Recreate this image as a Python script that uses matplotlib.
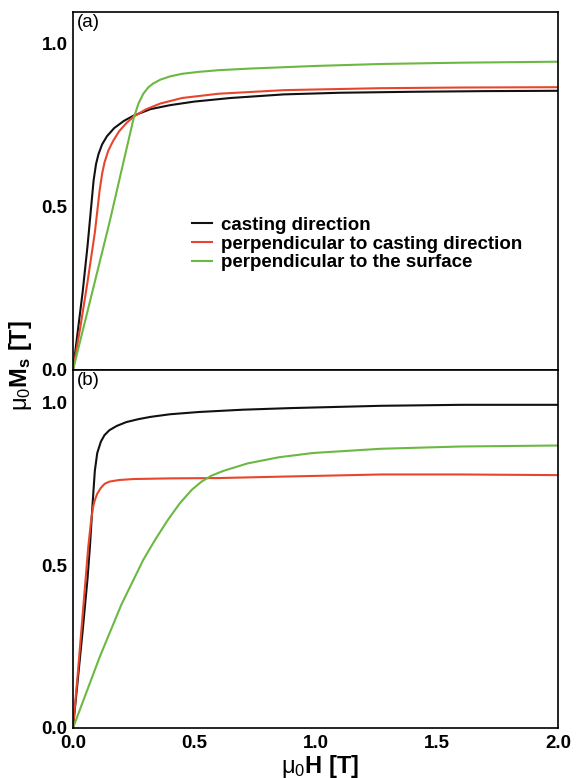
import numpy as np
import matplotlib
matplotlib.use("Agg")
from matplotlib import pyplot as plt

plt.rcParams['font.family'] = ['Liberation Sans', 'DejaVu Sans']
plt.rcParams['mathtext.fontset'] = 'custom'
plt.rcParams['mathtext.rm'] = 'Liberation Sans'
plt.rcParams['mathtext.bf'] = 'Liberation Sans:bold'
plt.rcParams['mathtext.it'] = 'Liberation Sans:italic'

labels = ['casting direction',
          'perpendicular to casting direction',
          'perpendicular to the surface']
colors = ['#111111', '#e8462c', '#6cb843']

# panel (a)
a_black_x = [0, 0.02, 0.04, 0.06, 0.075, 0.085, 0.095, 0.105, 0.12, 0.14, 0.17, 0.21, 0.25, 0.32,
             0.40, 0.50, 0.65, 0.87, 1.1, 1.4, 1.7, 2.0]
a_black_y = [0, 0.12, 0.24, 0.38, 0.50, 0.58, 0.63, 0.66, 0.69, 0.715, 0.74, 0.762, 0.778, 0.798,
             0.81, 0.821, 0.832, 0.843, 0.848, 0.851, 0.853, 0.854]
a_red_x = [0, 0.03, 0.06, 0.09, 0.11, 0.12, 0.13, 0.145, 0.165, 0.19, 0.22, 0.25, 0.30, 0.36,
           0.45, 0.6, 0.87, 1.27, 1.6, 2.0]
a_red_y = [0, 0.13, 0.27, 0.42, 0.55, 0.60, 0.635, 0.67, 0.70, 0.73, 0.755, 0.775, 0.797, 0.815,
           0.832, 0.845, 0.856, 0.862, 0.864, 0.865]
a_green_x = [0, 0.10, 0.15, 0.20, 0.25, 0.27, 0.29, 0.31, 0.33, 0.36, 0.40, 0.45, 0.52, 0.6,
             0.73, 1.0, 1.27, 1.6, 2.0]
a_green_y = [0, 0.30, 0.45, 0.61, 0.77, 0.815, 0.845, 0.864, 0.876, 0.888, 0.898, 0.906, 0.912, 0.917,
             0.922, 0.930, 0.936, 0.940, 0.943]

# panel (b)
b_black_x = [0, 0.02, 0.04, 0.06, 0.07, 0.08, 0.09, 0.10, 0.115, 0.13, 0.15, 0.18, 0.22, 0.27,
             0.32, 0.4, 0.52, 0.7, 0.9, 1.27, 1.6, 2.0]
b_black_y = [0, 0.15, 0.30, 0.46, 0.56, 0.68, 0.79, 0.845, 0.88, 0.90, 0.915, 0.928, 0.940, 0.949,
             0.956, 0.964, 0.971, 0.978, 0.983, 0.990, 0.993, 0.993]
b_red_x = [0, 0.02, 0.04, 0.063, 0.075, 0.083, 0.09, 0.10, 0.115, 0.13, 0.15, 0.19, 0.25, 0.4,
           0.6, 0.9, 1.27, 1.6, 2.0]
b_red_y = [0, 0.17, 0.35, 0.557, 0.64, 0.68, 0.70, 0.72, 0.738, 0.75, 0.757, 0.762, 0.765, 0.767,
           0.768, 0.773, 0.779, 0.779, 0.777]
b_green_x = [0, 0.11, 0.2, 0.29, 0.34, 0.39, 0.44, 0.49, 0.53, 0.57, 0.62, 0.72, 0.85, 0.99,
             1.27, 1.6, 2.0]
b_green_y = [0, 0.218, 0.38, 0.517, 0.58, 0.638, 0.69, 0.732, 0.757, 0.775, 0.79, 0.813, 0.832, 0.845,
             0.858, 0.865, 0.868]

x_ticks = [0.0, 0.5, 1.0, 1.5, 2.0]
y_ticks = [0.0, 0.5, 1.0]

fig = plt.figure(figsize=(5.76, 7.78), dpi=100)
ax1 = fig.add_axes([73/576, 1-370/778, 485/576, 358/778])
ax2 = fig.add_axes([73/576, 1-728/778, 485/576, 358/778])

series = [
    (ax1, [(a_black_x, a_black_y), (a_red_x, a_red_y), (a_green_x, a_green_y)], 1.095, '(a)'),
    (ax2, [(b_black_x, b_black_y), (b_red_x, b_red_y), (b_green_x, b_green_y)], 1.10, '(b)'),
]
for ax, data, ytop, tag in series:
    for (x, y), c, lab in zip(data, colors, labels):
        ax.plot(x, y, color=c, lw=1.5, label=lab, solid_joinstyle='round')
    ax.set_xlim(0, 2.0)
    ax.set_ylim(0, ytop)
    ax.set_yticks(y_ticks)
    ax.set_yticklabels(['%.1f' % v for v in y_ticks], fontweight='bold', fontsize=13.5)
    ax.tick_params(length=0, pad=4)
    for s in ax.spines.values():
        s.set_linewidth(1.2)
    ax.text(0.008, 0.995, tag, transform=ax.transAxes, ha='left', va='top', fontsize=13.5)

ax1.set_xticks([])
ax2.set_xticks(x_ticks)
ax2.set_xticklabels(['%.1f' % v for v in x_ticks], fontweight='bold', fontsize=13.5)
ax2.tick_params(axis='x', pad=5)

leg = ax1.legend(loc='upper left', bbox_to_anchor=(0.21, 0.475), frameon=False,
                 handlelength=1.1, handletextpad=0.45, labelspacing=0.08,
                 prop={'weight': 'bold', 'size': 13.5})

fig.text(320/576, 1-766/778, r'$\mathrm{\mu}_\mathrm{0}$H [T]', ha='center', va='center',
         fontweight='bold', fontsize=17)
fig.text(20/576, 1-366/778, r'$\mathrm{\mu}_\mathrm{0}$M$_\mathbf{s}$ [T]', rotation=90,
         ha='center', va='center', fontweight='bold', fontsize=17)

fig.savefig('out.png', dpi=100)
